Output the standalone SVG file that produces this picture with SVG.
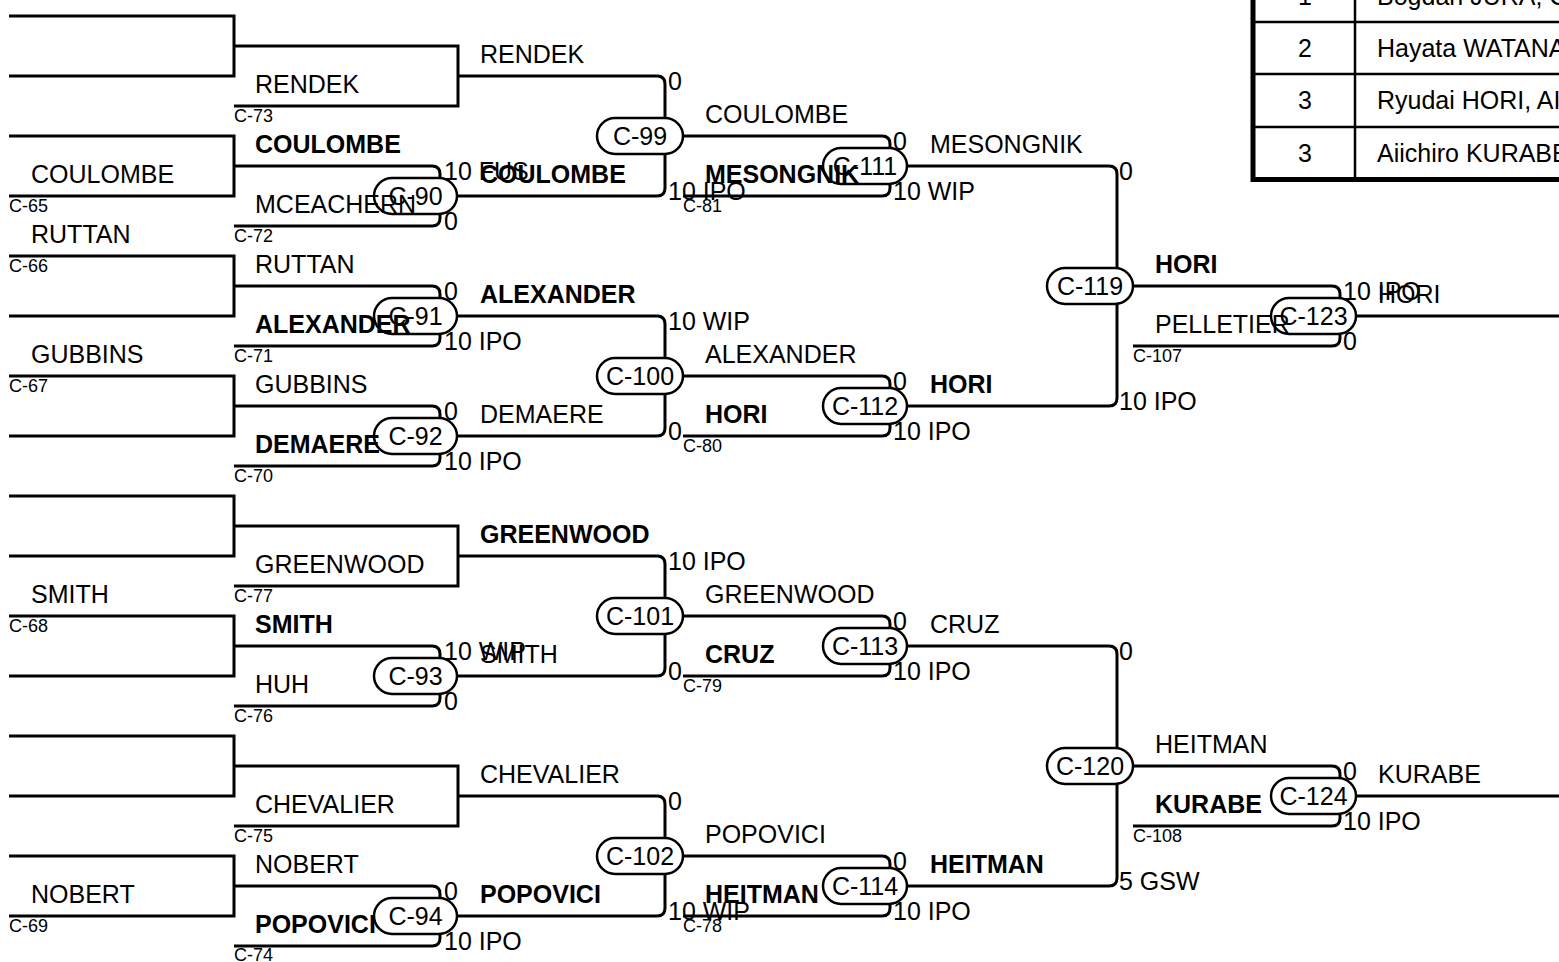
<svg xmlns="http://www.w3.org/2000/svg" width="1559" height="962" viewBox="0 0 1559 962">
<style>
.ln{fill:none;stroke:#000;stroke-width:3}
.pill{fill:#fff;stroke:#000;stroke-width:2.5}
.tb{fill:#fff;stroke:#000;stroke-width:5}
.tl{stroke:#000;stroke-width:2.5}
text{font-family:"Liberation Sans",Arial,sans-serif;font-size:25px;fill:#000}
.b{font-weight:bold}
.s{font-size:18px}
.c{text-anchor:middle}
</style>
<rect width="1559" height="962" fill="#fff"/>
<g id="connectors">
<path class="ln" d="M9,16H234V76H9"/>
<path class="ln" d="M9,136H234V196H9"/>
<path class="ln" d="M9,256H234V316H9"/>
<path class="ln" d="M9,376H234V436H9"/>
<path class="ln" d="M9,496H234V556H9"/>
<path class="ln" d="M9,616H234V676H9"/>
<path class="ln" d="M9,736H234V796H9"/>
<path class="ln" d="M9,856H234V916H9"/>
<path class="ln" d="M234,46H458V106H234"/>
<path class="ln" d="M234,166H432Q440,166 440,174V218Q440,226 432,226H234"/>
<path class="ln" d="M234,286H432Q440,286 440,294V338Q440,346 432,346H234"/>
<path class="ln" d="M234,406H432Q440,406 440,414V458Q440,466 432,466H234"/>
<path class="ln" d="M234,526H458V586H234"/>
<path class="ln" d="M234,646H432Q440,646 440,654V698Q440,706 432,706H234"/>
<path class="ln" d="M234,766H458V826H234"/>
<path class="ln" d="M234,886H432Q440,886 440,894V938Q440,946 432,946H234"/>
<path class="ln" d="M457,76H657Q665,76 665,84V188Q665,196 657,196H457"/>
<path class="ln" d="M457,316H657Q665,316 665,324V428Q665,436 657,436H457"/>
<path class="ln" d="M457,556H657Q665,556 665,564V668Q665,676 657,676H457"/>
<path class="ln" d="M457,796H657Q665,796 665,804V908Q665,916 657,916H457"/>
<path class="ln" d="M683,136H882Q890,136 890,144V188Q890,196 882,196H683"/>
<path class="ln" d="M683,376H882Q890,376 890,384V428Q890,436 882,436H683"/>
<path class="ln" d="M683,616H882Q890,616 890,624V668Q890,676 882,676H683"/>
<path class="ln" d="M683,856H882Q890,856 890,864V908Q890,916 882,916H683"/>
<path class="ln" d="M907,166H1109Q1117,166 1117,174V398Q1117,406 1109,406H907"/>
<path class="ln" d="M907,646H1109Q1117,646 1117,654V878Q1117,886 1109,886H907"/>
<path class="ln" d="M1133,286H1332Q1340,286 1340,294V338Q1340,346 1332,346H1133"/>
<path class="ln" d="M1133,766H1332Q1340,766 1340,774V818Q1340,826 1332,826H1133"/>
<path class="ln" d="M1356,316H1559"/>
<path class="ln" d="M1356,796H1559"/>
</g>
<g id="C-90"><rect class="pill" x="374" y="178" width="83" height="36" rx="18"/><text class="c" x="415.5" y="205">C-90</text></g>
<g id="C-91"><rect class="pill" x="374" y="298" width="83" height="36" rx="18"/><text class="c" x="415.5" y="325">C-91</text></g>
<g id="C-92"><rect class="pill" x="374" y="418" width="83" height="36" rx="18"/><text class="c" x="415.5" y="445">C-92</text></g>
<g id="C-93"><rect class="pill" x="374" y="658" width="83" height="36" rx="18"/><text class="c" x="415.5" y="685">C-93</text></g>
<g id="C-94"><rect class="pill" x="374" y="898" width="83" height="36" rx="18"/><text class="c" x="415.5" y="925">C-94</text></g>
<g id="C-99"><rect class="pill" x="597" y="118" width="86" height="36" rx="18"/><text class="c" x="640" y="145">C-99</text></g>
<g id="C-100"><rect class="pill" x="597" y="358" width="86" height="36" rx="18"/><text class="c" x="640" y="385">C-100</text></g>
<g id="C-101"><rect class="pill" x="597" y="598" width="86" height="36" rx="18"/><text class="c" x="640" y="625">C-101</text></g>
<g id="C-102"><rect class="pill" x="597" y="838" width="86" height="36" rx="18"/><text class="c" x="640" y="865">C-102</text></g>
<g id="C-111"><rect class="pill" x="823" y="148" width="84" height="36" rx="18"/><text class="c" x="865" y="175">C-111</text></g>
<g id="C-112"><rect class="pill" x="823" y="388" width="84" height="36" rx="18"/><text class="c" x="865" y="415">C-112</text></g>
<g id="C-113"><rect class="pill" x="823" y="628" width="84" height="36" rx="18"/><text class="c" x="865" y="655">C-113</text></g>
<g id="C-114"><rect class="pill" x="823" y="868" width="84" height="36" rx="18"/><text class="c" x="865" y="895">C-114</text></g>
<g id="C-119"><rect class="pill" x="1047" y="268" width="86" height="36" rx="18"/><text class="c" x="1090" y="295">C-119</text></g>
<g id="C-120"><rect class="pill" x="1047" y="748" width="86" height="36" rx="18"/><text class="c" x="1090" y="775">C-120</text></g>
<g id="C-123"><rect class="pill" x="1271" y="298" width="85" height="36" rx="18"/><text class="c" x="1313.5" y="325">C-123</text></g>
<g id="C-124"><rect class="pill" x="1271" y="778" width="85" height="36" rx="18"/><text class="c" x="1313.5" y="805">C-124</text></g>
<g id="round1-labels">
<text x="31" y="182.5">COULOMBE</text><text class="s" x="9" y="212">C-65</text>
<text x="31" y="242.5">RUTTAN</text><text class="s" x="9" y="272">C-66</text>
<text x="31" y="362.5">GUBBINS</text><text class="s" x="9" y="392">C-67</text>
<text x="31" y="602.5">SMITH</text><text class="s" x="9" y="632">C-68</text>
<text x="31" y="902.5">NOBERT</text><text class="s" x="9" y="932">C-69</text>
</g>
<g id="round2-labels">
<text x="255" y="92.5">RENDEK</text><text class="s" x="234" y="122">C-73</text>
<text class="b" x="255" y="152.5">COULOMBE</text><text x="255" y="212.5">MCEACHERN</text><text class="s" x="234" y="242">C-72</text>
<text x="255" y="272.5">RUTTAN</text><text class="b" x="255" y="332.5">ALEXANDER</text><text class="s" x="234" y="362">C-71</text>
<text x="255" y="392.5">GUBBINS</text><text class="b" x="255" y="452.5">DEMAERE</text><text class="s" x="234" y="482">C-70</text>
<text x="255" y="572.5">GREENWOOD</text><text class="s" x="234" y="602">C-77</text>
<text class="b" x="255" y="632.5">SMITH</text><text x="255" y="692.5">HUH</text><text class="s" x="234" y="722">C-76</text>
<text x="255" y="812.5">CHEVALIER</text><text class="s" x="234" y="842">C-75</text>
<text x="255" y="872.5">NOBERT</text><text class="b" x="255" y="932.5">POPOVICI</text><text class="s" x="234" y="961">C-74</text>
<text x="444" y="180">10 FUS</text><text x="444" y="230">0</text>
<text x="444" y="300">0</text><text x="444" y="350">10 IPO</text>
<text x="444" y="420">0</text><text x="444" y="470">10 IPO</text>
<text x="444" y="660">10 WIP</text><text x="444" y="710">0</text>
<text x="444" y="900">0</text><text x="444" y="950">10 IPO</text>
</g>
<g id="round3-labels">
<text x="480" y="62.5">RENDEK</text>
<text class="b" x="480" y="182.5">COULOMBE</text>
<text class="b" x="480" y="302.5">ALEXANDER</text>
<text x="480" y="422.5">DEMAERE</text>
<text class="b" x="480" y="542.5">GREENWOOD</text>
<text x="480" y="662.5">SMITH</text>
<text x="480" y="782.5">CHEVALIER</text>
<text class="b" x="480" y="902.5">POPOVICI</text>
<text x="668" y="90">0</text><text x="668" y="200">10 IPO</text>
<text x="668" y="330">10 WIP</text><text x="668" y="440">0</text>
<text x="668" y="570">10 IPO</text><text x="668" y="680">0</text>
<text x="668" y="810">0</text><text x="668" y="920">10 WIP</text>
</g>
<g id="round4-labels">
<text x="705" y="122.5">COULOMBE</text><text class="b" x="705" y="182.5">MESONGNIK</text><text class="s" x="683" y="212">C-81</text>
<text x="705" y="362.5">ALEXANDER</text><text class="b" x="705" y="422.5">HORI</text><text class="s" x="683" y="452">C-80</text>
<text x="705" y="602.5">GREENWOOD</text><text class="b" x="705" y="662.5">CRUZ</text><text class="s" x="683" y="692">C-79</text>
<text x="705" y="842.5">POPOVICI</text><text class="b" x="705" y="902.5">HEITMAN</text><text class="s" x="683" y="932">C-78</text>
<text x="893" y="150">0</text><text x="893" y="200">10 WIP</text>
<text x="893" y="390">0</text><text x="893" y="440">10 IPO</text>
<text x="893" y="630">0</text><text x="893" y="680">10 IPO</text>
<text x="893" y="870">0</text><text x="893" y="920">10 IPO</text>
</g>
<g id="round5-labels">
<text x="930" y="152.5">MESONGNIK</text>
<text class="b" x="930" y="392.5">HORI</text>
<text x="930" y="632.5">CRUZ</text>
<text class="b" x="930" y="872.5">HEITMAN</text>
<text x="1119" y="180">0</text><text x="1119" y="410">10 IPO</text>
<text x="1119" y="660">0</text><text x="1119" y="890">5 GSW</text>
</g>
<g id="round6-labels">
<text class="b" x="1155" y="272.5">HORI</text><text x="1155" y="332.5">PELLETIER</text><text class="s" x="1133" y="362">C-107</text>
<text x="1155" y="752.5">HEITMAN</text><text class="b" x="1155" y="812.5">KURABE</text><text class="s" x="1133" y="842">C-108</text>
<text x="1343" y="300">10 IPO</text><text x="1343" y="350">0</text>
<text x="1343" y="780">0</text><text x="1343" y="830">10 IPO</text>
<text x="1378" y="302.5">HORI</text>
<text x="1378" y="782.5">KURABE</text>
</g>
<g id="results-table">
<rect class="tb" x="1253" y="-20" width="400" height="199.5"/>
<line class="tl" x1="1253" y1="22" x2="1559" y2="22"/>
<line class="tl" x1="1253" y1="74" x2="1559" y2="74"/>
<line class="tl" x1="1253" y1="127" x2="1559" y2="127"/>
<line class="tl" x1="1355" y1="-20" x2="1355" y2="179"/>
<text class="c" x="1305" y="4.5">1</text><text x="1377" y="4.5">Bogdan JURA, C</text>
<text class="c" x="1305" y="56.5">2</text><text x="1377" y="56.5">Hayata WATANA</text>
<text class="c" x="1305" y="109">3</text><text x="1377" y="109">Ryudai HORI, AI</text>
<text class="c" x="1305" y="161.5">3</text><text x="1377" y="161.5">Aiichiro KURABE</text>
</g>
</svg>
